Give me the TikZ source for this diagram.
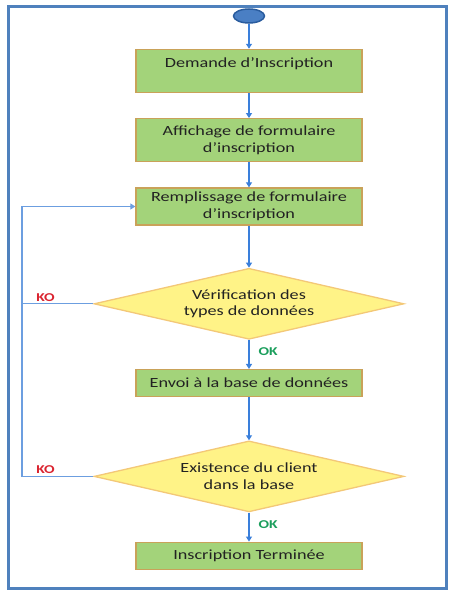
\documentclass[tikz,border=0pt]{standalone}
\usepackage{fontspec}
\setmainfont{Carlito}[FakeStretch=1.3]
\usetikzlibrary{arrows.meta,positioning,shapes.geometric}
\definecolor{frameblue}{HTML}{4F81BD}
\definecolor{flow}{HTML}{3A7FDB}
\definecolor{railblue}{HTML}{6C9EE0}
\definecolor{leaf}{HTML}{A3D37A}
\definecolor{ochre}{HTML}{C9A259}
\definecolor{lemon}{HTML}{FFF387}
\definecolor{apricot}{HTML}{F3C878}
\definecolor{kored}{HTML}{DA2430}
\definecolor{okgreen}{HTML}{1B9E5C}
\definecolor{ink}{HTML}{222222}
\definecolor{startfill}{HTML}{4A7FC4}
\definecolor{startdraw}{HTML}{2A5C9E}

\begin{document}
\begin{tikzpicture}[x=1pt,y=-1pt,
  box/.style={draw=ochre,line width=1.3pt,fill=leaf,minimum width=226pt,
    inner sep=0pt,align=center,text=ink,font=\fontsize{14}{16.5}\selectfont},
  test/.style={diamond,draw=apricot,line width=1.3pt,fill=lemon,aspect=4.37,
    minimum width=310pt,minimum height=71pt,inner sep=0pt,align=center,
    text=ink,font=\fontsize{14}{16.5}\selectfont},
  arr/.style={-{Triangle[length=5pt,width=6pt]},line width=1.1pt,flow},
  retour/.style={line width=1.1pt,railblue},
  ko/.style={font=\bfseries\fontsize{12}{14}\selectfont,text=kored,inner sep=2pt},
  ok/.style={font=\bfseries\fontsize{12}{14}\selectfont,text=okgreen,inner sep=2pt}]
\useasboundingbox (0,0) rectangle (453,597);
\draw[frameblue,line width=3pt] (8.5,6.2) rectangle (446,588.3);
\node[ellipse,draw=startdraw,line width=1.5pt,fill=startfill,minimum width=31pt,
  minimum height=14pt,inner sep=0pt] (start) at (249,16) {};
\node[box,minimum height=43pt,below=25pt of start] (dem) {Demande d’Inscription\\ ~};
\node[box,minimum height=43pt,below=25pt of dem] (aff) {Affichage de formulaire\\d’inscription};
\node[box,minimum height=37pt,below=25pt of aff] (rem) {Remplissage de formulaire\\d’inscription};
\node[test,below=42pt of rem] (verif) {Vérification des\\types de données};
\node[box,minimum height=27pt,below=29pt of verif] (envoi) {Envoi à la base de données};
\node[test,below=43pt of envoi] (exist) {Existence du client\\dans la base};
\node[box,minimum height=27pt,below=29pt of exist] (fin) {Inscription Terminée};
\coordinate (rail) at (22,0);
\draw[arr] (start)--(dem);
\draw[arr] (dem)--(aff);
\draw[arr] (aff)--(rem);
\draw[arr] (rem)--(verif);
\draw[arr] (verif)--node[ok,right,pos=0.4,xshift=7pt]{OK}(envoi);
\draw[arr] (envoi)--(exist);
\draw[arr] (exist)--node[ok,right,pos=0.4,xshift=7pt]{OK}(fin);
\draw[retour] (verif.west)--node[ko,above,pos=0.67]{KO}(verif.west -| rail);
\draw[retour,-{Triangle[length=5pt,width=6pt]}] (exist.west)--node[ko,above,pos=0.67]{KO}(exist.west -| rail) |- (rem.west);
\end{tikzpicture}
\end{document}
